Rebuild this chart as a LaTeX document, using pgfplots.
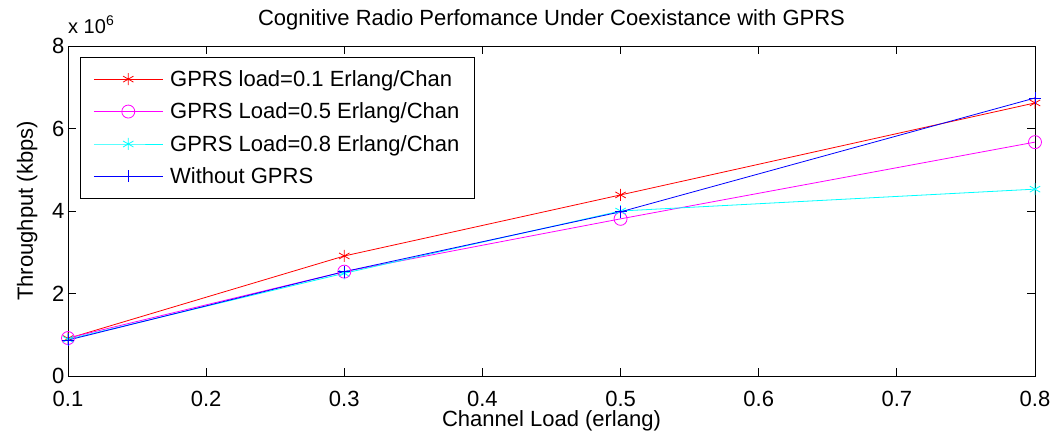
\documentclass[border=0pt]{standalone}
\usepackage{fontspec}
\setmainfont{Liberation Sans}
\usepackage{pgfplots}
\pgfplotsset{compat=1.18}
\definecolor{mred}{RGB}{255,0,0}
\definecolor{mmag}{RGB}{255,0,255}
\definecolor{mcyan}{RGB}{0,255,255}
\definecolor{mblue}{RGB}{0,0,255}
\begin{document}
\begin{tikzpicture}
\useasboundingbox (-68pt,-64pt) rectangle (995pt,376pt);
\begin{axis}[
  at={(0pt,0pt)}, anchor=south west,
  scale only axis, width=967pt, height=330pt,
  clip=false,
  xmin=0.1, xmax=0.8, ymin=0, ymax=8,
  xtick={0.1,0.2,0.3,0.4,0.5,0.6,0.7,0.8},
  xticklabels={0.1,0.2,0.3,0.4,0.5,0.6,0.7,0.8},
  ytick={0,2,4,6,8},
  yticklabels={0,2,4,6,8},
  tick label style={font=\fontsize{22}{26}\selectfont},
  xticklabel style={yshift=-12pt},
  yticklabel style={xshift=0pt},
  tick align=inside, major tick length=8pt,
  axis line style={line width=0.8pt},
  every tick/.style={black, line width=0.8pt},
  title={Cognitive Radio Perfomance Under Coexistance with GPRS},
  title style={font=\fontsize{22}{26}\selectfont, yshift=6pt},
  xlabel={Channel Load (erlang)},
  ylabel={Throughput (kbps)},
  label style={font=\fontsize{22}{26}\selectfont},
  xlabel style={yshift=3pt},
  ylabel style={yshift=8pt},
  legend cell align=left,
  legend style={at={(axis description cs:0.0124,0.9667)}, anchor=north west,
    draw=black, line width=0.8pt, font=\fontsize{22}{26}\selectfont,
    row sep=11pt, inner xsep=13pt, inner ysep=11pt,
    /tikz/every odd column/.append style={column sep=5pt}},
  legend image code/.code={\draw[mark repeat=2,mark phase=2,#1] plot coordinates {(0pt,0pt) (34.5pt,0pt) (69pt,0pt)};},
  every axis plot/.append style={line width=0.8pt},
]
\addplot[mred, mark=asterisk, mark size=6pt] coordinates {(0.1,0.91) (0.3,2.91) (0.5,4.39) (0.8,6.62)};
\addlegendentry{GPRS load=0.1 Erlang/Chan}
\addplot[mmag, mark=o, mark size=6.5pt] coordinates {(0.1,0.92) (0.3,2.53) (0.5,3.81) (0.8,5.67)};
\addlegendentry{GPRS Load=0.5 Erlang/Chan}
\addplot[mcyan, mark=asterisk, mark size=6pt] coordinates {(0.1,0.89) (0.3,2.49) (0.5,4.0) (0.8,4.53)};
\addlegendentry{GPRS Load=0.8 Erlang/Chan}
\addplot[mblue, mark=+, mark size=6pt] coordinates {(0.1,0.87) (0.3,2.53) (0.5,3.98) (0.8,6.74)};
\addlegendentry{Without GPRS}
\node[anchor=base west, inner sep=0pt, yshift=13pt, font=\fontsize{20}{24}\selectfont] at (rel axis cs:0,1) {x 10\textsuperscript{6}};
\end{axis}
\end{tikzpicture}
\end{document}
